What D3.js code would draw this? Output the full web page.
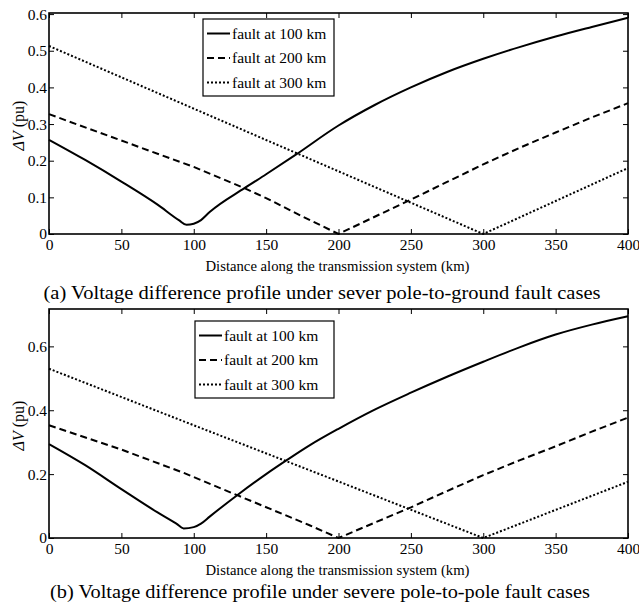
<!DOCTYPE html>
<meta charset="utf-8">
<html>
<head>
<script src="https://d3js.org/d3.v7.min.js"></script>
<style>
  body { margin: 0; background: #fff; }
  svg text { font-family: "Liberation Serif", serif; fill: #000; }
  .tick line { stroke: #000; stroke-width: 1; }
</style>
</head>
<body>
<script>
// ---- data ----
// x ticks (km)
var kmTicks = [0, 50, 100, 150, 200, 250, 300, 350, 400];
var dvTicksA = [0, 0.1, 0.2, 0.3, 0.4, 0.5, 0.6];
var dvTicksB = [0, 0.2, 0.4, 0.6];
var legendLabels = ["fault at 100 km", "fault at 200 km", "fault at 300 km"];

// (a) pole-to-ground
var distA100 = [0, 25, 50, 75, 90, 95, 100, 105, 111, 135, 150, 170, 200, 225, 250, 275, 300, 325, 350, 375, 400];
var dvA100 = [0.257, 0.202, 0.143, 0.08, 0.037, 0.025, 0.028, 0.038, 0.06, 0.125, 0.163, 0.215, 0.296, 0.352, 0.4, 0.442, 0.478, 0.51, 0.539, 0.565, 0.59];
var distA200 = [0, 50, 100, 135, 150, 175, 200, 225, 250, 275, 300, 325, 350, 375, 400];
var dvA200 = [0.327, 0.255, 0.183, 0.125, 0.098, 0.048, 0, 0.047, 0.094, 0.142, 0.19, 0.235, 0.277, 0.318, 0.357];
var distA300 = [0, 100, 200, 300, 350, 400];
var dvA300 = [0.513, 0.342, 0.171, 0, 0.09, 0.18];

// (b) pole-to-pole
var distB100 = [0, 25, 50, 75, 88, 93, 100, 105, 111, 130, 150, 165, 180, 200, 225, 250, 275, 300, 325, 350, 375, 400];
var dvB100 = [0.294, 0.228, 0.153, 0.08, 0.045, 0.03, 0.034, 0.045, 0.067, 0.134, 0.2, 0.246, 0.29, 0.342, 0.402, 0.455, 0.505, 0.552, 0.597, 0.637, 0.668, 0.694];
var distB200 = [0, 50, 93, 130, 180, 200, 225, 250, 275, 300, 325, 350, 375, 400];
var dvB200 = [0.353, 0.277, 0.204, 0.134, 0.04, 0, 0.048, 0.096, 0.147, 0.197, 0.243, 0.287, 0.333, 0.377];
var distB300 = [0, 100, 200, 300, 350, 400];
var dvB300 = [0.53, 0.353, 0.177, 0, 0.088, 0.176];

var W = 639, H = 613;
var serif = "'Liberation Serif', serif";

var svg = d3.select("body").append("svg")
  .attr("width", W)
  .attr("height", H)
  .attr("font-family", serif);

var styles = [
  { dash: null, curve: d3.curveMonotoneX },
  { dash: "7,4", curve: d3.curveLinear },
  { dash: "2,2", curve: d3.curveLinear }
];

function zip(xs, ys) {
  return xs.map((d, i) => [d, ys[i]]);
}

function styleAxis(sel) {
  sel.attr("font-family", serif).attr("font-size", 15.5);
  sel.selectAll("text").attr("font-family", serif).attr("fill", "#000");
}

function panel(opt) {
  var x = d3.scaleLinear().domain([0, 400]).range([opt.left, opt.right]);
  var y = d3.scaleLinear().domain([0, opt.ymax]).range([opt.bottom, opt.top]);
  var g = svg.append("g");

  // inward ticks on all four sides
  g.append("g")
    .attr("transform", `translate(0,${opt.bottom})`)
    .call(d3.axisBottom(x).tickValues(kmTicks).tickSize(-5).tickPadding(5).tickFormat(d3.format("d")))
    .call(styleAxis);
  g.append("g")
    .attr("transform", `translate(0,${opt.top})`)
    .call(d3.axisTop(x).tickValues(kmTicks).tickSize(-5).tickFormat(""));
  g.append("g")
    .attr("transform", `translate(${opt.left},0)`)
    .call(d3.axisLeft(y).tickValues(opt.yticks).tickSize(-5).tickPadding(2).tickFormat(d => d === 0 ? "0" : d3.format(".1f")(d)))
    .call(styleAxis);
  g.append("g")
    .attr("transform", `translate(${opt.right},0)`)
    .call(d3.axisRight(y).tickValues(opt.yticks).tickSize(-5).tickFormat(""));
  g.selectAll(".domain").remove();

  // curves
  opt.series.forEach((s, i) => {
    var line = d3.line()
      .x(d => x(d[0]))
      .y(d => y(d[1]))
      .curve(styles[i].curve);
    g.append("path")
      .datum(zip(s[0], s[1]))
      .attr("d", line)
      .attr("fill", "none")
      .attr("stroke", "#000")
      .attr("stroke-width", 2)
      .attr("stroke-dasharray", styles[i].dash);
  });

  // frame
  g.append("rect")
    .attr("x", opt.left)
    .attr("y", opt.top)
    .attr("width", opt.right - opt.left)
    .attr("height", opt.bottom - opt.top)
    .attr("fill", "none")
    .attr("stroke", "#000")
    .attr("stroke-width", 1.6);

  // legend
  var lg = opt.legend;
  g.append("rect")
    .attr("x", lg.x)
    .attr("y", lg.y)
    .attr("width", lg.w)
    .attr("height", lg.h)
    .attr("fill", "#fff")
    .attr("stroke", "#000")
    .attr("stroke-width", 1.2);
  legendLabels.forEach((t, i) => {
    var cy = lg.y + 14.5 + i * 24.5;
    g.append("line")
      .attr("x1", lg.x + 4)
      .attr("x2", lg.x + 27)
      .attr("y1", cy)
      .attr("y2", cy)
      .attr("stroke", "#000")
      .attr("stroke-width", 2)
      .attr("stroke-dasharray", styles[i].dash);
    g.append("text")
      .attr("x", lg.x + 29)
      .attr("y", cy + 5)
      .attr("font-family", serif)
      .attr("font-size", 15.5)
      .text(t);
  });

  // y label
  var yl = g.append("text")
    .attr("transform", `translate(24,${(opt.top + opt.bottom) / 2 + 2}) rotate(-90)`)
    .attr("text-anchor", "middle")
    .attr("font-family", serif)
    .attr("font-size", 16);
  yl.append("tspan").attr("font-style", "italic").text("\u0394V");
  yl.append("tspan").text(" (pu)");

  // x label
  g.append("text")
    .attr("x", (opt.left + opt.right) / 2 - 1)
    .attr("y", opt.bottom + 37)
    .attr("text-anchor", "middle")
    .attr("font-family", serif)
    .attr("font-size", 15)
    .attr("textLength", 264)
    .attr("lengthAdjust", "spacingAndGlyphs")
    .text("Distance along the transmission system (km)");

  // caption
  g.append("text")
    .attr("x", opt.capX)
    .attr("y", opt.capY)
    .attr("text-anchor", "middle")
    .attr("font-family", serif)
    .attr("font-size", 18)
    .attr("textLength", opt.capLen)
    .attr("lengthAdjust", "spacingAndGlyphs")
    .text(opt.caption);
}

panel({
  left: 49, right: 628, top: 13, bottom: 234, ymax: 0.603,
  yticks: dvTicksA,
  series: [[distA100, dvA100], [distA200, dvA200], [distA300, dvA300]],
  legend: { x: 203, y: 19, w: 131, h: 77 },
  caption: "(a) Voltage difference profile under sever pole-to-ground fault cases",
  capX: 322, capY: 299, capLen: 557
});

panel({
  left: 49, right: 628, top: 309, bottom: 538, ymax: 0.717,
  yticks: dvTicksB,
  series: [[distB100, dvB100], [distB200, dvB200], [distB300, dvB300]],
  legend: { x: 195, y: 321, w: 139, h: 77 },
  caption: "(b) Voltage difference profile under severe pole-to-pole fault cases",
  capX: 320, capY: 598, capLen: 540
});
</script>
</body>
</html>
